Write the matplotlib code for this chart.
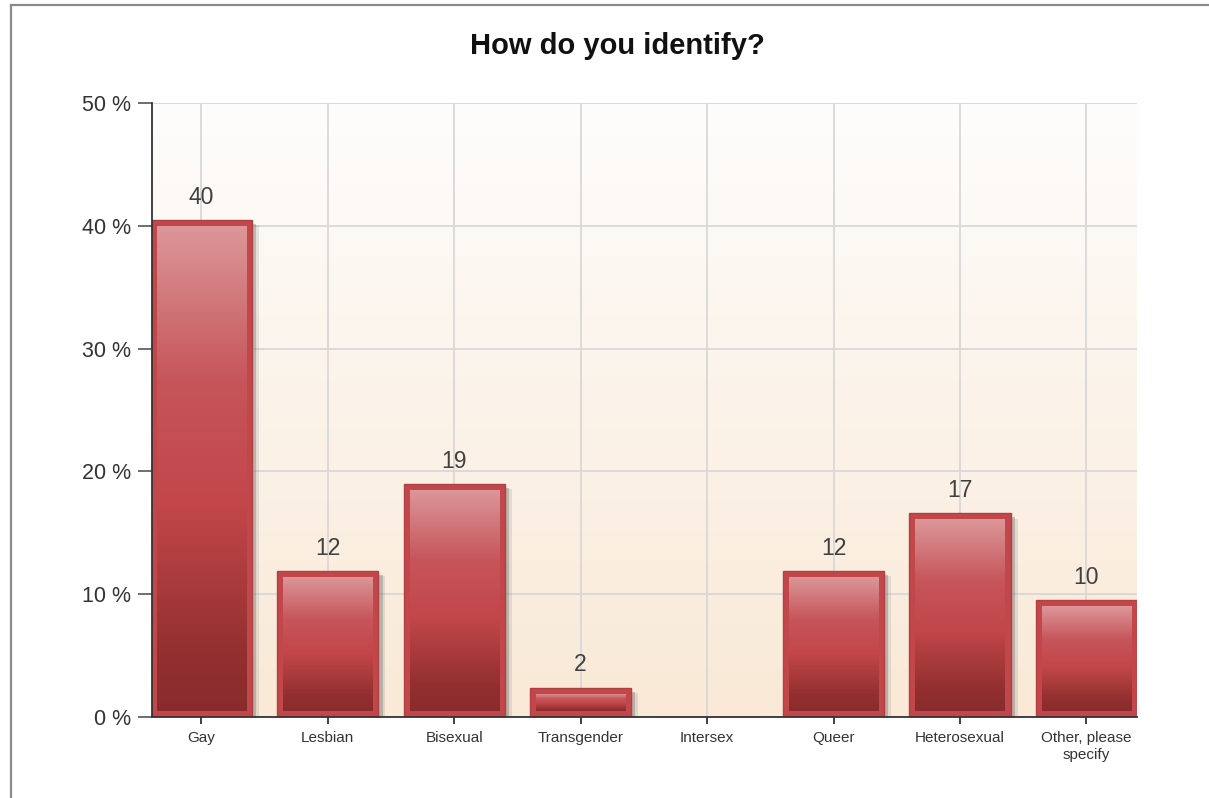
import numpy as np
import matplotlib
matplotlib.use('Agg')
import matplotlib.pyplot as plt
from matplotlib.colors import LinearSegmentedColormap
from matplotlib.lines import Line2D
from matplotlib.patches import Rectangle
import matplotlib.patheffects as pe

plt.rcParams['font.family'] = ['Liberation Sans', 'DejaVu Sans']

# data
categories = ['Gay', 'Lesbian', 'Bisexual', 'Transgender', 'Intersex',
              'Queer', 'Heterosexual', 'Other, please\nspecify']
percents = [40.5, 11.9, 19.0, 2.4, 0.0, 11.9, 16.6, 9.5]
labels = ['40', '12', '19', '2', '', '12', '17', '10']
y_ticks = [0, 10, 20, 30, 40, 50]

fig = plt.figure(figsize=(12.09, 7.98), dpi=100)
ax = fig.add_axes([152 / 1209, 81 / 798, 985 / 1209, 614 / 798])

x = np.arange(len(categories))
bar_w = 0.8
ax.set_xlim(-0.39, len(categories) - 0.6)
ax.set_ylim(0, 50)

# background gradient
bg_cmap = LinearSegmentedColormap.from_list('bg', ['#f9e9d6', '#fefdfc'])
grad = np.linspace(0, 1, 256).reshape(-1, 1)
ax.imshow(grad, cmap=bg_cmap, aspect='auto', origin='lower',
          extent=[*ax.get_xlim(), *ax.get_ylim()], zorder=0)

# grid
ax.set_yticks(y_ticks)
ax.set_yticklabels([f'{v} %' for v in y_ticks])
ax.set_xticks(x)
ax.set_xticklabels(categories, linespacing=1.25)
ax.grid(True, color='#d8d8d8', linewidth=1.3, zorder=1)
ax.set_axisbelow(True)

# pixel -> data conversion for the inner inset of the bars
fig.canvas.draw()
bb = ax.get_window_extent()
px_x = (ax.get_xlim()[1] - ax.get_xlim()[0]) / bb.width
px_y = (ax.get_ylim()[1] - ax.get_ylim()[0]) / bb.height
inset = 6

bar_cmap = LinearSegmentedColormap.from_list(
    'bar', [(0.0, '#892b2d'), (0.12, '#93302f'), (0.42, '#c2464a'),
            (0.68, '#c6555a'), (1.0, '#dc9799')])

bars = ax.bar(x, percents, bar_w, color='#c2474a', edgecolor='#b23f42',
              linewidth=1.0, zorder=3)
for b in bars:
    if b.get_height() <= 0:
        continue
    b.set_path_effects([pe.SimplePatchShadow(offset=(3, -3), shadow_rgbFace='#666666', alpha=0.35),
                        pe.SimplePatchShadow(offset=(5, -4), shadow_rgbFace='#888888', alpha=0.2),
                        pe.Normal()])
    x0 = b.get_x() + inset * px_x
    x1 = b.get_x() + b.get_width() - inset * px_x
    y0 = inset * px_y
    y1 = b.get_height() - inset * px_y
    if y1 <= y0:
        continue
    im = ax.imshow(grad, cmap=bar_cmap, aspect='auto', origin='lower',
                   extent=[x0, x1, y0, y1], zorder=4)
    clip = Rectangle((x0, y0), x1 - x0, y1 - y0, transform=ax.transData)
    im.set_clip_path(clip)

# restore limits (imshow can change them)
ax.set_xlim(-0.39, len(categories) - 0.6)
ax.set_ylim(0, 50)

# value labels
for xi, v, lab in zip(x, percents, labels):
    if lab:
        ax.annotate(lab, xy=(xi, v), xytext=(0, 8), textcoords='offset points',
                    ha='center', va='bottom', fontsize=16.5, color='#404040', zorder=6)

for s in ['top', 'right']:
    ax.spines[s].set_visible(False)
for s in ['left', 'bottom']:
    ax.spines[s].set_color('#333333')
    ax.spines[s].set_linewidth(1.3)
    ax.spines[s].set_zorder(7)

ax.tick_params(axis='y', length=10, width=1.2, color='#555555', labelsize=15.5,
               labelcolor='#333333', pad=5)
ax.tick_params(axis='x', length=5, width=1.3, color='#333333', labelsize=11,
               labelcolor='#333333', pad=5)

fig.text(0.5105, 1 - 46 / 798, 'How do you identify?', ha='center', va='center',
         fontsize=21, fontweight='bold', color='#111111')

# outer frame (left and top edges of the screenshot)
fig.add_artist(Line2D([11 / 1209, 11 / 1209], [0, 1 - 5 / 798], color='#8a8a8a', linewidth=1.6))
fig.add_artist(Line2D([11 / 1209, 1], [1 - 5 / 798, 1 - 5 / 798], color='#8a8a8a', linewidth=1.6))

fig.savefig('out.png', dpi=100, facecolor='white')
